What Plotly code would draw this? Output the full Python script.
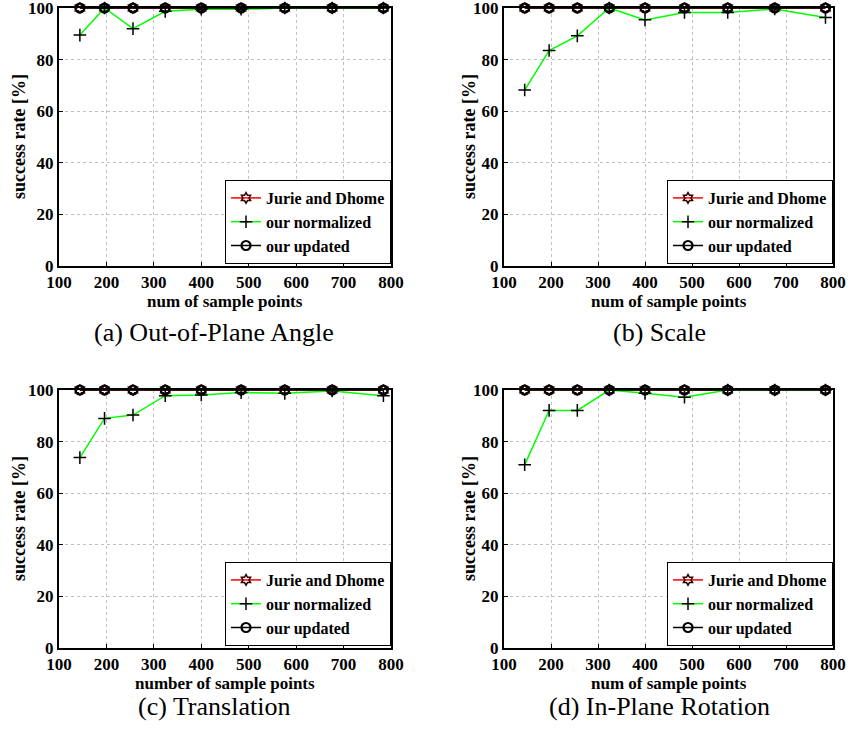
import plotly.graph_objects as go

W, H = 852, 731

# ---- data ----
sample_points = [144, 196, 256, 324, 400, 484, 576, 676, 784]
jurie = [100, 100, 100, 100, 100, 100, 100, 100, 100]
updated = [100, 100, 100, 100, 100, 100, 100, 100, 100]
norm_a = [89.5, 100, 92.0, 98.7, 99.5, 99.5, 100, 100, 100]
norm_b = [68.2, 83.5, 89.2, 100, 95.4, 98.3, 98.3, 99.6, 96.3]
norm_c = [73.8, 89.0, 90.3, 97.8, 98.1, 99.0, 98.7, 99.6, 97.8]
norm_d = [71.0, 92.1, 92.1, 100, 98.7, 97.2, 100, 100, 100]
captions = ["(a) Out-of-Plane Angle", "(b) Scale", "(c) Translation", "(d) In-Plane Rotation"]
xtitles = ["num of sample points", "num of sample points", "number of sample points", "num of sample points"]
ytitle = "success rate [%]"
series_names = ["Jurie and Dhome", "our normalized", "our updated"]
x_ticks = [100, 200, 300, 400, 500, 600, 700, 800]
y_ticks = [0, 20, 40, 60, 80, 100]

FONT = "Liberation Serif"
# panel pixel boxes: (left, right, top, bottom)
boxes = [(59, 391, 8, 266), (504, 833, 8, 266), (59, 391, 390, 648), (504, 833, 390, 648)]
ytitle_x = [19, 469, 19, 469]
cap_pos = [(214, 332), (659, 332), (214, 706), (659, 706)]
normals = [norm_a, norm_b, norm_c, norm_d]

fig = go.Figure()
annotations = []
for i, (l, r, t, b) in enumerate(boxes):
    k = "" if i == 0 else str(i + 1)
    xa, ya = "x" + k, "y" + k
    leg = "legend" + k
    fig.add_trace(go.Scatter(x=sample_points, y=jurie, name=series_names[0], mode="lines+markers",
                             line=dict(color="#ff0000", width=1.5),
                             marker=dict(symbol="hexagram-open", size=8, color="#300000", line=dict(width=1.5)),
                             xaxis=xa, yaxis=ya, legend=leg, cliponaxis=False))
    fig.add_trace(go.Scatter(x=sample_points, y=normals[i], name=series_names[1], mode="lines+markers",
                             line=dict(color="#00ff00", width=1.5),
                             marker=dict(symbol="cross-thin", size=9, color="black", line=dict(width=1.5, color="black")),
                             xaxis=xa, yaxis=ya, legend=leg, cliponaxis=False))
    fig.add_trace(go.Scatter(x=sample_points, y=updated, name=series_names[2], mode="lines+markers",
                             line=dict(color="black", width=1.5),
                             marker=dict(symbol="circle-open", size=9, color="black", line=dict(width=2.2)),
                             xaxis=xa, yaxis=ya, legend=leg, cliponaxis=False))
    axis_common = dict(showline=True, mirror=True, linecolor="black", linewidth=2,
                       ticks="inside", ticklen=4, tickcolor="black", automargin=False,
                       ticklabeloverflow="allow",
                       showgrid=True, gridcolor="#c0c0c0", griddash="dot", gridwidth=1,
                       zeroline=False,
                       tickfont=dict(family=FONT, size=17, color="black", weight="bold"))
    fig.update_layout(**{
        "xaxis" + k: dict(domain=[l / W, r / W], anchor=ya, range=[100, 800],
                          tickvals=x_ticks, **axis_common),
        "yaxis" + k: dict(domain=[1 - b / H, 1 - t / H], anchor=xa, range=[0, 100],
                          tickvals=y_ticks, **axis_common),
        leg: dict(x=r / W, xanchor="right", y=1 - (b - 2) / H, yanchor="bottom",
                  bgcolor="white", bordercolor="black", borderwidth=1,
                  font=dict(family=FONT, size=16, color="black", weight="bold"),
                  itemwidth=30, tracegroupgap=0),
    })
    annotations.append(dict(text=xtitles[i], x=(l + r) / 2 / W, y=1 - (b + 35) / H,
                            xref="paper", yref="paper", showarrow=False, xanchor="center", yanchor="middle",
                            font=dict(family=FONT, size=17, color="black", weight="bold")))
    annotations.append(dict(text=ytitle, x=ytitle_x[i] / W, y=1 - (t + b) / 2 / H, textangle=-90,
                            xref="paper", yref="paper", showarrow=False, xanchor="center", yanchor="middle",
                            font=dict(family=FONT, size=18, color="black", weight="bold")))
    cx, cy = cap_pos[i]
    annotations.append(dict(text=captions[i], x=cx / W, y=1 - cy / H,
                            xref="paper", yref="paper", showarrow=False, xanchor="center", yanchor="middle",
                            font=dict(family=FONT, size=26, color="black")))

fig.update_layout(width=W, height=H, margin=dict(l=0, r=0, t=0, b=0, autoexpand=False),
                  paper_bgcolor="white", plot_bgcolor="white",
                  annotations=annotations, showlegend=True)
fig.write_html("out.html")
